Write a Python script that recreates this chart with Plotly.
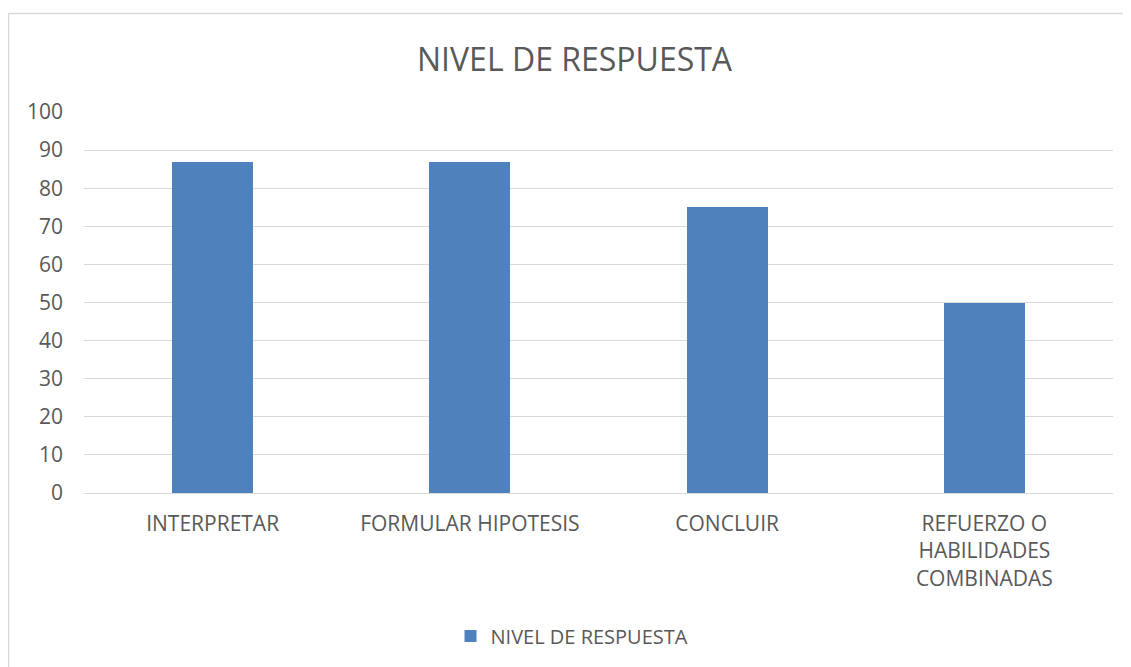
import plotly.graph_objects as go

categories = ["INTERPRETAR", "FORMULAR HIPOTESIS", "CONCLUIR", "REFUERZO O<br>HABILIDADES<br>COMBINADAS"]
values = [87, 87, 75, 50]
series_name = "NIVEL DE RESPUESTA"
y_ticks = list(range(0, 101, 10))

W, H = 1131, 667
OFF = 8  # page body margin
# target screen-pixel plot box
plot_left, plot_right, plot_top, plot_bottom = 84, 1113, 112, 493
ml = plot_left - OFF
mt = plot_top - OFF
pw = plot_right - plot_left
ph = plot_bottom - plot_top
mr = W - ml - pw
mb = H - mt - ph

def px_x(x):
    return (x - plot_left) / pw

def px_y(y):
    return (plot_bottom - y) / ph

text_color = "#595959"
grid_color = "#d9d9d9"
font_family = "Open Sans, Noto Sans, sans-serif"

fig = go.Figure()
fig.add_trace(go.Bar(
    x=categories, y=values, name=series_name,
    marker=dict(color="#4F81BD", line=dict(width=0)),
    width=0.315,
    showlegend=True,
))

fig.update_layout(
    width=W, height=H,
    margin=dict(l=ml, r=mr, t=mt, b=mb),
    paper_bgcolor="white", plot_bgcolor="white",
    font=dict(family=font_family, size=21, color=text_color),
    showlegend=True,
    legend=dict(orientation="h", x=px_x(572), xanchor="center", y=px_y(636), yanchor="middle",
                font=dict(size=20, color=text_color), itemwidth=30, itemsizing="constant"),
    xaxis=dict(showgrid=False, showline=False, ticks="", tickfont=dict(size=21, color=text_color),
               range=[-0.5, 3.5], ticklabelstandoff=16),
    yaxis=dict(range=[0, 100], tickvals=y_ticks, showgrid=True, gridcolor=grid_color, gridwidth=1.3,
               zeroline=True, zerolinecolor=grid_color, zerolinewidth=1.3,
               showline=False, ticks="", tickfont=dict(size=21, color=text_color), ticklabelstandoff=20),
    bargap=0,
    shapes=[dict(type="rect", xref="paper", yref="paper",
                 x0=px_x(8.5), x1=px_x(1160), y0=px_y(700), y1=px_y(13.5),
                 line=dict(color=grid_color, width=1.5), fillcolor="rgba(0,0,0,0)", layer="below")],
    annotations=[dict(text="NIVEL DE RESPUESTA", xref="paper", yref="paper",
                      x=px_x(575), y=px_y(58), xanchor="center", yanchor="middle",
                      showarrow=False, font=dict(size=32, color=text_color, family=font_family))],
)

fig.write_html("out.html")
